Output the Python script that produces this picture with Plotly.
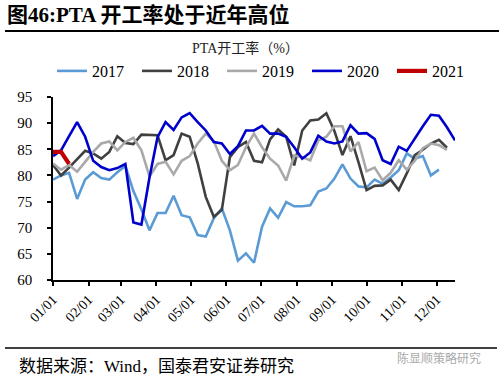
import pandas as pd
import plotly.graph_objects as go

# Weekly PTA operating rate (%), one value per week starting 01/01
y2017 = [79.2, 80.0, 80.5, 75.5, 79.2, 80.6, 79.5, 79.2, 80.6, 81.8,
         77.0, 73.5, 69.5, 72.8, 72.8, 76.1, 72.4, 72.0, 68.6, 68.3,
         71.8, 73.7, 69.5, 63.7, 65.1, 63.3, 70.2, 73.7, 71.9, 74.9,
         74.1, 74.1, 74.3, 76.9, 77.5, 79.4, 82.1, 79.4, 77.9, 77.7,
         79.2, 78.4, 79.6, 81.0, 84.2, 83.2, 83.7, 80.0, 81.1]
y2018 = [82.0, 80.0, 81.5, 83.0, 84.7, 84.2, 83.2, 84.5, 87.5, 86.2,
         86.0, 87.8, 87.8, 87.7, 82.9, 83.9, 88.0, 87.4, 82.3, 75.9,
         72.1, 73.4, 83.5, 85.4, 86.4, 82.8, 82.5, 86.9, 88.8, 87.4,
         81.9, 88.6, 90.5, 90.7, 91.9, 88.5, 83.9, 87.5, 82.5, 77.2,
         78.0, 78.1, 79.2, 77.2, 80.4, 83.9, 84.9, 86.1, 86.8, 85.3]
y2019 = [82.3, 81.1, 82.0, 80.7, 82.6, 84.5, 86.1, 86.5, 84.8, 86.4,
         87.2, 84.8, 79.8, 82.2, 82.6, 80.2, 82.8, 83.7, 86.1, 88.0,
         86.6, 82.8, 81.0, 82.0, 85.4, 88.0, 85.4, 83.2, 81.9, 79.0,
         83.8, 83.5, 82.9, 86.7, 87.4, 89.4, 89.4, 84.6, 86.4, 80.8,
         81.5, 79.1, 80.5, 82.9, 81.1, 82.8, 85.2, 86.1, 85.8, 84.9]
y2020 = [83.7, 84.8, 87.5, 90.2, 87.4, 82.8, 81.6, 81.0, 81.4, 82.2,
         71.0, 70.6, 79.6, 87.3, 90.2, 88.7, 91.1, 91.9, 90.2, 88.6,
         86.4, 86.1, 84.1, 85.6, 88.6, 88.6, 89.5, 88.0, 88.0, 87.4,
         85.4, 83.2, 84.4, 87.6, 86.5, 86.1, 86.5, 89.6, 88.0, 88.1,
         87.0, 82.9, 82.2, 85.5, 84.7, 87.1, 89.4, 91.6, 91.4, 89.2,
         86.7]
y2021 = [84.5, 84.5, 82.2]

series = [("2017", y2017, "#5B9BD5", 2.6),
          ("2018", y2018, "#404040", 2.6),
          ("2019", y2019, "#A9A9A9", 2.6),
          ("2020", y2020, "#0000CC", 2.6),
          ("2021", y2021, "#C00000", 4.2)]

tick_labels = ["01/01", "02/01", "03/01", "04/01", "05/01", "06/01",
               "07/01", "08/01", "09/01", "10/01", "11/01", "12/01"]
tick_vals = [pd.Timestamp(f"2021-{t[:2]}-{t[3:]}") for t in tick_labels]

SERIF = "Liberation Serif, Noto Sans CJK SC, serif"

fig = go.Figure()
for name, vals, color, w in series:
    x = pd.date_range("2021-01-01", periods=len(vals), freq="7D")
    fig.add_trace(go.Scatter(x=x, y=vals, name=name, mode="lines",
                             line=dict(color=color, width=w)))

L, R, T, B = 53, 44, 97, 102
W, H = 499, 382
pw, ph = W - L - R, H - T - B

def px(xp):
    return (xp - L) / pw

def py(yp):
    return (H - B - yp) / ph

fig.update_layout(
    width=W, height=H,
    margin=dict(l=L, r=R, t=T, b=B, pad=0, autoexpand=False),
    paper_bgcolor="white", plot_bgcolor="white",
    font=dict(family=SERIF, color="black", size=14),
    showlegend=True,
    legend=dict(orientation="h", x=px(52), xanchor="left",
                y=py(71), yanchor="middle",
                font=dict(size=16, family=SERIF),
                entrywidth=40, entrywidthmode="pixels",
                itemwidth=30, tracegroupgap=0, borderwidth=0,
                bgcolor="rgba(0,0,0,0)"),
    xaxis=dict(range=[pd.Timestamp("2021-01-01"), pd.Timestamp("2021-12-17")],
               tickvals=tick_vals, ticktext=tick_labels, tickangle=-45,
               showgrid=False, zeroline=False, showline=True,
               linecolor="black", linewidth=1.5, automargin=False,
               ticks="outside", ticklen=4, tickwidth=1.5, tickcolor="black",
               tickfont=dict(size=14, family=SERIF)),
    yaxis=dict(range=[60, 95], tickvals=[60, 65, 70, 75, 80, 85, 90, 95],
               showgrid=False, zeroline=False, showline=True,
               linecolor="black", linewidth=1.5, automargin=False,
               ticks="outside", ticklen=4, tickwidth=1.5, tickcolor="black",
               ticklabelstandoff=12,
               tickfont=dict(size=15, family=SERIF)),
)

fig.add_annotation(text="<b>图46:PTA 开工率处于近年高位</b>",
                   xref="paper", yref="paper", x=px(5), y=py(15),
                   xanchor="left", yanchor="middle", showarrow=False,
                   font=dict(size=21, family=SERIF, color="black"))
fig.add_annotation(text="PTA开工率（%）",
                   xref="paper", yref="paper", x=px(245), y=py(48),
                   xanchor="center", yanchor="middle", showarrow=False,
                   font=dict(size=14, family=SERIF, color="#222222"))
fig.add_annotation(text="数据来源：Wind，国泰君安证券研究",
                   xref="paper", yref="paper", x=px(17), y=py(366),
                   xanchor="left", yanchor="middle", showarrow=False,
                   font=dict(size=17, family=SERIF, color="black"))
fig.add_annotation(text="陈显顺策略研究",
                   xref="paper", yref="paper", x=px(483), y=py(357),
                   xanchor="right", yanchor="middle", showarrow=False,
                   font=dict(size=12, family="Noto Sans CJK SC", color="#AAAAAA"))

fig.add_shape(type="line", xref="paper", yref="paper",
              x0=px(5), x1=px(499), y0=py(31), y1=py(31),
              line=dict(color="black", width=2))
fig.add_shape(type="line", xref="paper", yref="paper",
              x0=px(5), x1=px(497), y0=py(348), y1=py(348),
              line=dict(color="black", width=1.5))

fig.write_html("out.html", config={"displayModeBar": False},
               post_script="document.body.style.margin='0';document.body.style.overflow='hidden';")
